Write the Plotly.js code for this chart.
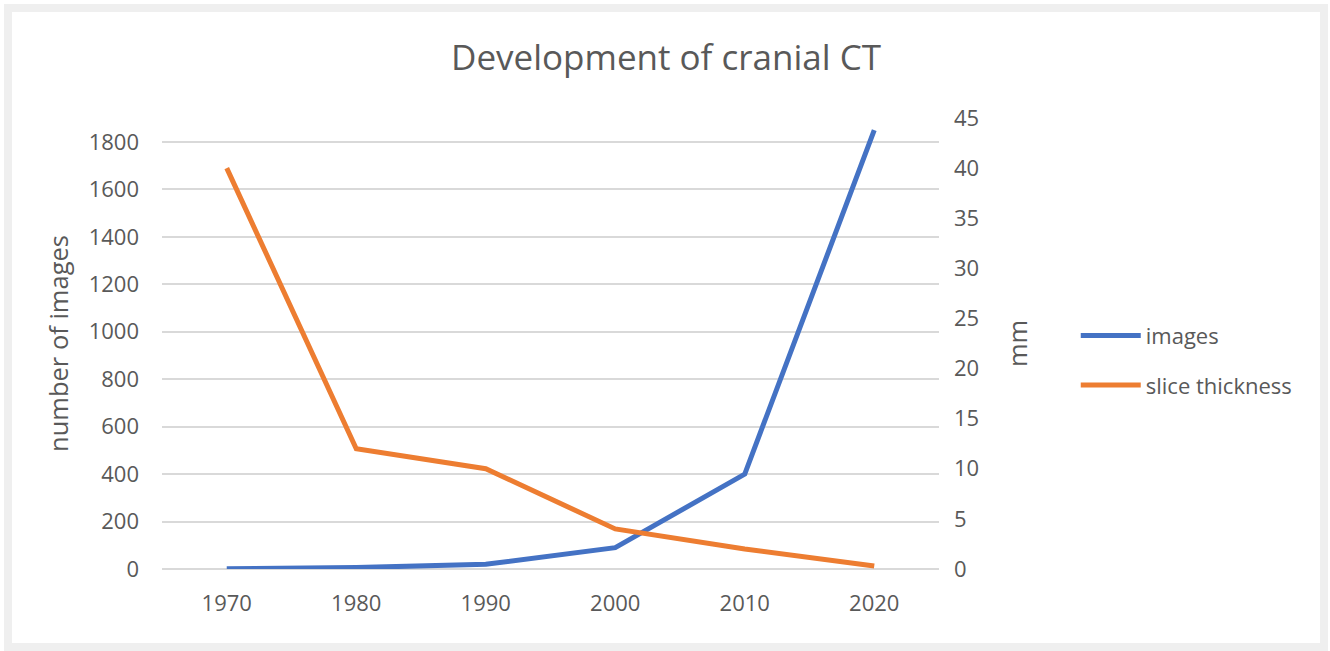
<!DOCTYPE html>
<html>
<head>
<meta charset="utf-8">
<script src="https://cdn.plot.ly/plotly-3.0.1.min.js"></script>
<style>
  html, body { margin: 0; padding: 0; background: #ffffff; }
  #wrap { position: absolute; left: 4px; top: 4px; width: 1308px; height: 631px; border: 8px solid #efefef; }
  #chart { width: 1308px; height: 631px; }
</style>
</head>
<body>
<div id="wrap"><div id="chart"></div></div>
<script>
const years = ["1970", "1980", "1990", "2000", "2010", "2020"];
const images = [1, 6, 20, 90, 400, 1850];
const sliceThickness = [40, 12, 10, 4, 2, 0.3];
const leftTicks = [0, 200, 400, 600, 800, 1000, 1200, 1400, 1600, 1800];
const rightTicks = [0, 5, 10, 15, 20, 25, 30, 35, 40, 45];

const FONT = "Open Sans, Noto Sans, sans-serif";
const TXT = "#595959";

const traces = [
  {
    x: years, y: images, name: "images", type: "scatter", mode: "lines",
    line: { color: "#4472C4", width: 5 }, yaxis: "y", legendgroup: "a"
  },
  {
    x: years, y: sliceThickness, name: "slice thickness", type: "scatter", mode: "lines",
    line: { color: "#ED7D31", width: 5 }, yaxis: "y2", legendgroup: "b"
  }
];

const layout = {
  width: 1308, height: 631,
  margin: { l: 150, r: 381, t: 106, b: 74 },
  paper_bgcolor: "#ffffff", plot_bgcolor: "#ffffff",
  font: { family: FONT, color: TXT, size: 22 },
  title: { text: "Development of cranial CT", font: { family: FONT, size: 35, color: TXT }, x: 0.5, xanchor: "center", y: 0.927, yanchor: "middle" },
  showlegend: true,
  legend: {
    x: 1.176, xanchor: "left", y: 0.462, yanchor: "middle",
    font: { family: FONT, size: 22, color: TXT },
    itemwidth: 60, tracegroupgap: 18, bgcolor: "rgba(0,0,0,0)"
  },
  xaxis: {
    type: "category", range: [-0.5, 5.5], showgrid: false, zeroline: false,
    showline: false, ticks: "", tickfont: { family: FONT, size: 22, color: TXT },
    ticklabelstandoff: 19, fixedrange: true
  },
  yaxis: {
    range: [0, 1901], tickvals: leftTicks, showgrid: true, gridcolor: "#d9d9d9", gridwidth: 2,
    zeroline: true, zerolinecolor: "#d9d9d9", zerolinewidth: 2, showline: false, ticks: "",
    tickfont: { family: FONT, size: 22, color: TXT }, ticklabelstandoff: 22,
    title: { text: "number of images", font: { family: FONT, size: 25.5, color: TXT }, standoff: 12 }
  },
  yaxis2: {
    range: [0, 45], tickvals: rightTicks, overlaying: "y", side: "right", showgrid: false,
    zeroline: false, showline: false, ticks: "", tickfont: { family: FONT, size: 22, color: TXT },
    ticklabelstandoff: 14,
    title: { text: "mm", font: { family: FONT, size: 25.5, color: TXT }, standoff: 30 }
  }
};

Plotly.newPlot("chart", traces, layout, { displayModeBar: false, staticPlot: true });
</script>
</body>
</html>
